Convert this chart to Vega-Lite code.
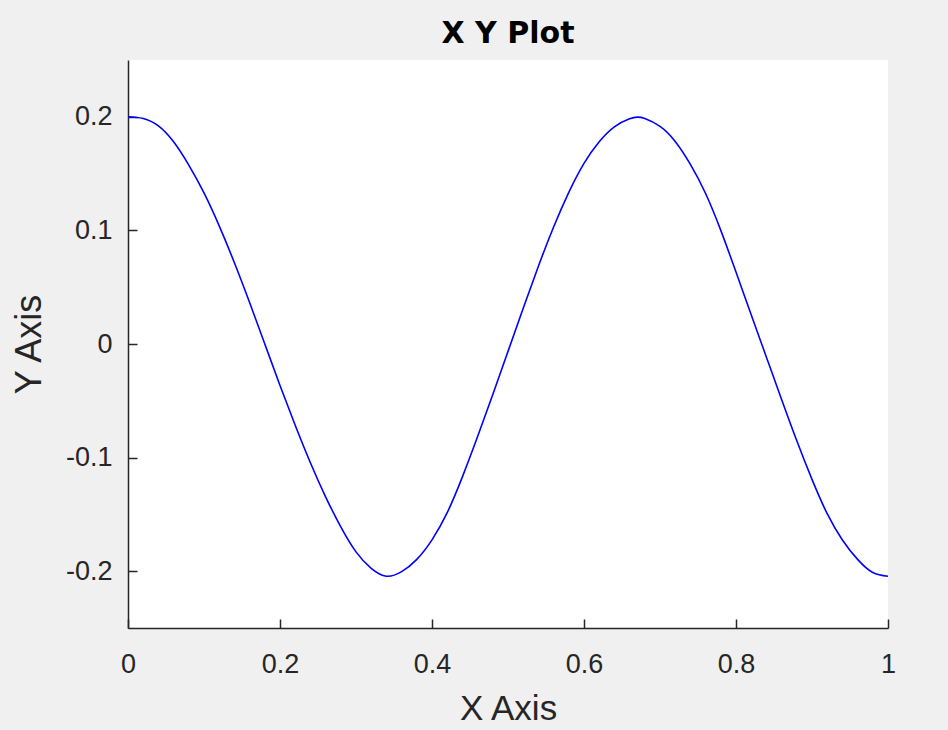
{
  "$schema": "https://vega.github.io/schema/vega-lite/v6.json",
  "width": 760,
  "height": 568,
  "autosize": {"type": "none"},
  "padding": {"left": 128, "top": 60, "right": 60, "bottom": 102},
  "background": "#f0f0f0",
  "title": {
    "text": "X Y Plot",
    "font": "DejaVu Sans",
    "fontSize": 30,
    "fontWeight": "bold",
    "color": "#000000",
    "anchor": "middle",
    "offset": 11
  },
  "config": {
    "view": {"fill": "#ffffff", "stroke": null},
    "font": "Liberation Sans"
  },
  "data": {
    "values": [
      {"x": 0, "y": 0.2},
      {"x": 0.02, "y": 0.1985},
      {"x": 0.04, "y": 0.192},
      {"x": 0.06, "y": 0.178},
      {"x": 0.08, "y": 0.1575},
      {"x": 0.1, "y": 0.133},
      {"x": 0.12, "y": 0.104},
      {"x": 0.14, "y": 0.0715},
      {"x": 0.16, "y": 0.0365},
      {"x": 0.18, "y": 0.0},
      {"x": 0.2, "y": -0.0365},
      {"x": 0.22, "y": -0.0715},
      {"x": 0.24, "y": -0.1045},
      {"x": 0.26, "y": -0.1345},
      {"x": 0.28, "y": -0.161},
      {"x": 0.3, "y": -0.183},
      {"x": 0.32, "y": -0.1975},
      {"x": 0.34, "y": -0.2044},
      {"x": 0.36, "y": -0.2004},
      {"x": 0.38, "y": -0.1896},
      {"x": 0.4, "y": -0.1724},
      {"x": 0.42, "y": -0.1485},
      {"x": 0.44, "y": -0.117},
      {"x": 0.46, "y": -0.0815},
      {"x": 0.48, "y": -0.0445},
      {"x": 0.5, "y": -0.0065},
      {"x": 0.52, "y": 0.0315},
      {"x": 0.54, "y": 0.0685},
      {"x": 0.56, "y": 0.103},
      {"x": 0.58, "y": 0.1335},
      {"x": 0.6, "y": 0.159},
      {"x": 0.62, "y": 0.178},
      {"x": 0.64, "y": 0.1912},
      {"x": 0.66, "y": 0.1982},
      {"x": 0.67, "y": 0.1997},
      {"x": 0.68, "y": 0.1985},
      {"x": 0.7, "y": 0.1915},
      {"x": 0.72, "y": 0.1783},
      {"x": 0.74, "y": 0.1581},
      {"x": 0.76, "y": 0.1325},
      {"x": 0.78, "y": 0.1},
      {"x": 0.8, "y": 0.0633},
      {"x": 0.82, "y": 0.0257},
      {"x": 0.84, "y": -0.0116},
      {"x": 0.86, "y": -0.0488},
      {"x": 0.88, "y": -0.0852},
      {"x": 0.9, "y": -0.1192},
      {"x": 0.92, "y": -0.1494},
      {"x": 0.94, "y": -0.1725},
      {"x": 0.96, "y": -0.1896},
      {"x": 0.98, "y": -0.2012},
      {"x": 1.0, "y": -0.2044}
    ]
  },
  "mark": {"type": "line", "color": "#0000ff", "strokeWidth": 1.6, "interpolate": "natural"},
  "encoding": {
    "x": {
      "field": "x",
      "type": "quantitative",
      "scale": {"domain": [0, 1], "nice": false, "zero": false},
      "axis": {
        "title": "X Axis",
        "values": [0, 0.2, 0.4, 0.6, 0.8, 1],
        "labelExpr": "'' + datum.value",
        "grid": false,
        "domainColor": "#262626",
        "domainWidth": 1.5,
        "tickColor": "#262626",
        "tickWidth": 1.5,
        "tickSize": -9,
        "labelPadding": 32,
        "labelFont": "Liberation Sans",
        "labelFontSize": 27,
        "labelColor": "#262626",
        "labelFlush": false,
        "titleFont": "Liberation Sans",
        "titleFontSize": 35,
        "titleFontWeight": "normal",
        "titleColor": "#262626",
        "titlePadding": 14
      }
    },
    "y": {
      "field": "y",
      "type": "quantitative",
      "scale": {"domain": [-0.25, 0.25], "nice": false, "zero": false},
      "axis": {
        "title": "Y Axis",
        "values": [-0.2, -0.1, 0, 0.1, 0.2],
        "labelExpr": "'' + datum.value",
        "grid": false,
        "domainColor": "#262626",
        "domainWidth": 1.5,
        "tickColor": "#262626",
        "tickWidth": 1.5,
        "tickSize": -9,
        "labelPadding": 25,
        "labelFont": "Liberation Sans",
        "labelFontSize": 27,
        "labelColor": "#262626",
        "titleFont": "Liberation Sans",
        "titleFontSize": 36,
        "titleFontWeight": "normal",
        "titleColor": "#262626",
        "titlePadding": 17
      }
    }
  }
}
